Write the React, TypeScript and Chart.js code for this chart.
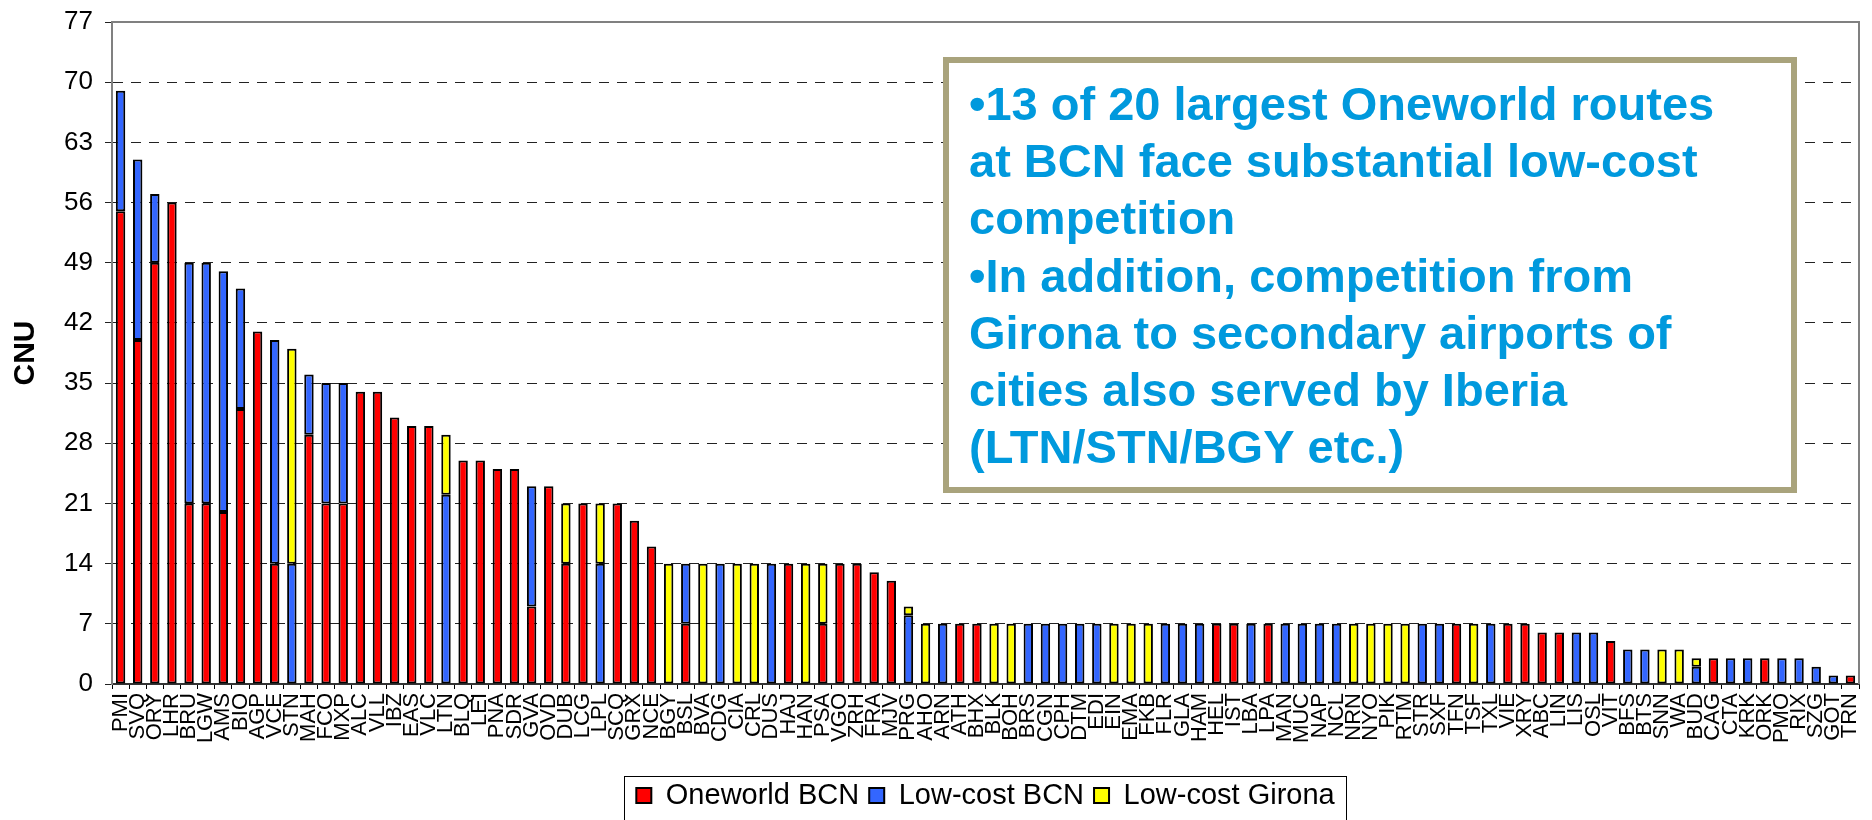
import React, { useEffect, useRef } from "react";
import { Chart, registerables } from "chart.js";

Chart.register(...registerables);

const FONT = "'Liberation Sans', Arial, Helvetica, sans-serif";

const categories = [
  "PMI", "SVQ", "ORY", "LHR", "BRU", "LGW", "AMS", "BIO", "AGP", "VCE",
  "STN", "MAH", "FCO", "MXP", "ALC", "VLL", "IBZ", "EAS", "VLC", "LTN",
  "BLQ", "LEI", "PNA", "SDR", "GVA", "OVD", "DUB", "LCG", "LPL", "SCQ",
  "GRX", "NCE", "BGY", "BSL", "BVA", "CDG", "CIA", "CRL", "DUS", "HAJ",
  "HAN", "PSA", "VGO", "ZRH", "FRA", "MJV", "PRG", "AHO", "ARN", "ATH",
  "BHX", "BLK", "BOH", "BRS", "CGN", "CPH", "DTM", "EDI", "EIN", "EMA",
  "FKB", "FLR", "GLA", "HAM", "HEL", "IST", "LBA", "LPA", "MAN", "MUC",
  "NAP", "NCL", "NRN", "NYO", "PIK", "RTM", "STR", "SXF", "TFN", "TSF",
  "TXL", "VIE", "XRY", "ABC", "LIN", "LIS", "OSL", "VIT", "BFS", "BTS",
  "SNN", "WA", "BUD", "CAG", "CTA", "KRK", "ORK", "PMO", "RIX", "SZG",
  "GOT", "TRN",
];

const oneworldBCN = [
  55, 40, 49, 56, 21, 21, 20, 32, 41, 14,
  0, 29, 21, 21, 34, 34, 31, 30, 30, 0,
  26, 26, 25, 25, 9, 23, 14, 21, 0, 21,
  19, 16, 0, 7, 0, 0, 0, 0, 0, 14,
  0, 7, 14, 14, 13, 12, 0, 0, 0, 7,
  7, 0, 0, 0, 0, 0, 0, 0, 0, 0,
  0, 0, 0, 0, 7, 7, 0, 7, 0, 0,
  0, 0, 0, 0, 0, 0, 0, 0, 7, 0,
  0, 7, 7, 6, 6, 0, 0, 5, 0, 0,
  0, 0, 0, 3, 0, 0, 3, 0, 0, 0,
  0, 1,
];

const lowCostBCN = [
  14, 21, 8, 0, 28, 28, 28, 14, 0, 26,
  14, 7, 14, 14, 0, 0, 0, 0, 0, 22,
  0, 0, 0, 0, 14, 0, 0, 0, 14, 0,
  0, 0, 0, 7, 0, 14, 0, 0, 14, 0,
  0, 0, 0, 0, 0, 0, 8, 0, 7, 0,
  0, 0, 0, 7, 7, 7, 7, 7, 0, 0,
  0, 7, 7, 7, 0, 0, 7, 0, 7, 7,
  7, 7, 0, 0, 0, 0, 7, 7, 0, 0,
  7, 0, 0, 0, 0, 6, 6, 0, 4, 4,
  0, 0, 2, 0, 3, 3, 0, 3, 3, 2,
  1, 0,
];

const lowCostGirona = [
  0, 0, 0, 0, 0, 0, 0, 0, 0, 0,
  25, 0, 0, 0, 0, 0, 0, 0, 0, 7,
  0, 0, 0, 0, 0, 0, 7, 0, 7, 0,
  0, 0, 14, 0, 14, 0, 14, 14, 0, 0,
  14, 7, 0, 0, 0, 0, 1, 7, 0, 0,
  0, 7, 7, 0, 0, 0, 0, 0, 7, 7,
  7, 0, 0, 0, 0, 0, 0, 0, 0, 0,
  0, 0, 7, 7, 7, 7, 0, 0, 0, 7,
  0, 0, 0, 0, 0, 0, 0, 0, 0, 0,
  4, 4, 1, 0, 0, 0, 0, 0, 0, 0,
  0, 0,
];

const seriesNames = ["Oneworld BCN", "Low-cost BCN", "Low-cost Girona"];
const seriesColors = ["#FF0000", "#3366FF", "#FFFF00"];

const yMin = 0;
const yMax = 77;
const yStep = 7;

const annotationLines = [
  "\u202213 of 20 largest Oneworld routes",
  "at BCN face substantial low-cost",
  "competition",
  "\u2022In addition, competition from",
  "Girona to secondary airports of",
  "cities also served by Iberia",
  "(LTN/STN/BGY etc.)",
];

const decorPlugin = {
  id: "decor",
  afterDraw(chart: any) {
    const ctx = chart.ctx;
    const a = chart.chartArea;
    ctx.save();
    ctx.strokeStyle = "#808080";
    ctx.lineWidth = 2;
    ctx.beginPath();
    ctx.moveTo(a.left, a.top);
    ctx.lineTo(a.right, a.top);
    ctx.lineTo(a.right, a.bottom);
    ctx.stroke();

    const bx = 943, by = 57, bw = 854, bh = 436;
    ctx.fillStyle = "#FFFFFF";
    ctx.fillRect(bx, by, bw, bh);
    ctx.strokeStyle = "#A9A37C";
    ctx.lineWidth = 6;
    ctx.strokeRect(bx + 3, by + 3, bw - 6, bh - 6);
    ctx.fillStyle = "#0099DD";
    ctx.font = `bold 47px ${FONT}`;
    ctx.textAlign = "left";
    ctx.textBaseline = "alphabetic";
    annotationLines.forEach((line, i) => {
      ctx.fillText(line, 969, 120 + i * 57.2);
    });

    const boxes = chart.legend && chart.legend.legendHitBoxes;
    if (boxes && boxes.length) {
      let minX = Infinity, maxX = -Infinity;
      boxes.forEach((b: any) => {
        minX = Math.min(minX, b.left);
        maxX = Math.max(maxX, b.left + b.width);
      });
      ctx.strokeStyle = "#000";
      ctx.lineWidth = 1;
      ctx.strokeRect(Math.round(minX - 12) + 0.5, 776.5, Math.round(maxX - minX + 24), 60);
    }
    ctx.restore();
  },
};

export default function App() {
  const ref = useRef<HTMLCanvasElement>(null);

  useEffect(() => {
    const canvas = ref.current!;
    const toNull = (arr: number[]) => arr.map((v) => (v === 0 ? null : v));
    const series = [oneworldBCN, lowCostBCN, lowCostGirona];
    const chart = new Chart(canvas, {
      type: "bar",
      data: {
        labels: categories,
        datasets: series.map((d, i) => ({
          label: seriesNames[i],
          data: toNull(d) as any,
          backgroundColor: seriesColors[i],
          borderColor: "#000",
          borderWidth: 2,
          borderSkipped: false,
          barPercentage: 0.55,
          categoryPercentage: 1.0,
        })),
      },
      options: {
        responsive: false,
        animation: false,
        devicePixelRatio: 1,
        layout: { padding: { top: 22, right: 13, left: 0, bottom: 0 } },
        plugins: {
          tooltip: { enabled: false },
          legend: {
            position: "bottom",
            fullSize: false,
            labels: {
              boxWidth: 15,
              boxHeight: 15,
              color: "#000",
              padding: 10,
              font: { size: 29, family: FONT },
            },
          },
        },
        scales: {
          x: {
            stacked: true,
            afterFit: (s: any) => {
              s.height = 87;
              s.paddingLeft = 0;
              s.paddingRight = 0;
            },
            grid: {
              offset: true,
              drawOnChartArea: false,
              drawTicks: true,
              tickLength: 5,
              color: "#000",
            },
            border: { display: true, color: "#333", width: 2 },
            ticks: {
              autoSkip: false,
              maxRotation: 90,
              minRotation: 90,
              padding: 4,
              color: "#000",
              font: { size: 22, family: FONT },
            },
          },
          y: {
            stacked: true,
            min: yMin,
            max: yMax,
            afterFit: (s: any) => {
              s.width = 112;
              s.paddingTop = 0;
              s.paddingBottom = 0;
            },
            ticks: {
              stepSize: yStep,
              padding: 12,
              color: "#000",
              font: { size: 26, family: FONT },
            },
            grid: {
              color: (c: any) =>
                c.tick && (c.tick.value === yMin || c.tick.value === yMax) ? "rgba(0,0,0,0)" : "#222",
              tickColor: "#222",
              tickLength: 7,
              lineWidth: 1,
            },
            border: { display: true, color: "#808080", width: 2, dash: [10, 8] },
            title: {
              display: true,
              text: "CNU",
              color: "#000",
              font: { size: 30, weight: "bold", family: FONT },
              padding: { top: 8, bottom: 0 },
            },
          },
        },
      },
      plugins: [decorPlugin],
    } as any);
    return () => chart.destroy();
  }, []);

  return (
    <div style={{ position: "fixed", left: 0, top: 0, width: 1872, height: 820, background: "#fff" }}>
      <canvas ref={ref} width={1872} height={820} style={{ display: "block", width: 1872, height: 820 }} />
    </div>
  );
}
